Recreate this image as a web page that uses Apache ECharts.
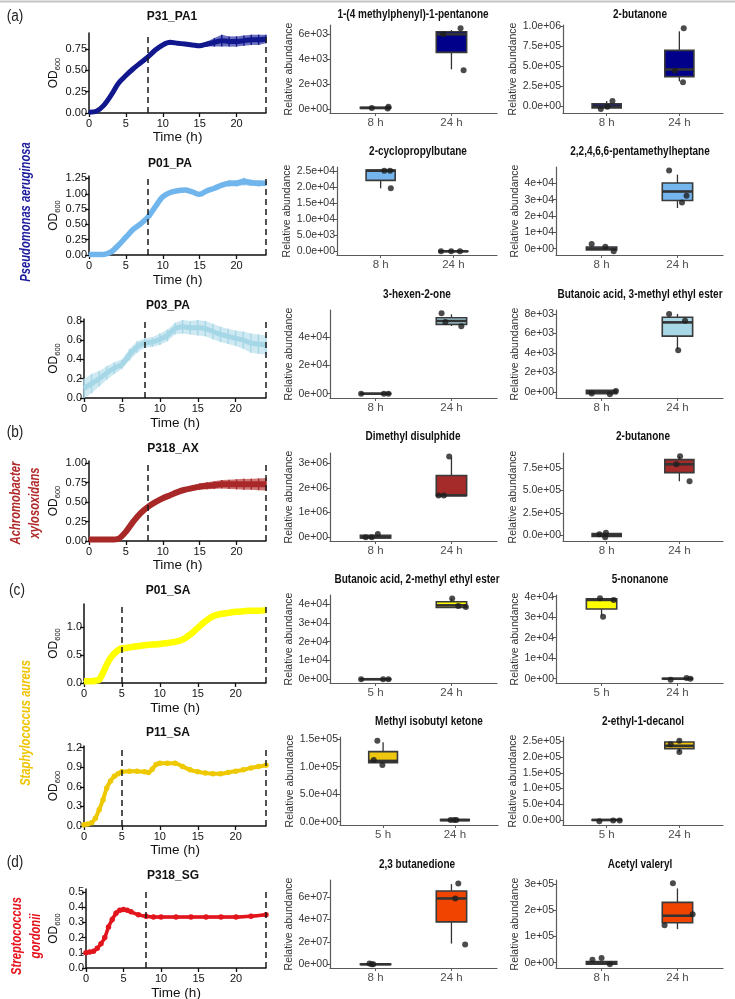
<!DOCTYPE html>
<html><head><meta charset="utf-8">
<script src="https://cdn.jsdelivr.net/npm/echarts@6/dist/echarts.min.js"></script>
<style>html,body{margin:0;padding:0;background:#fff}#c{width:735px;height:999px}</style>
</head><body><div id="c"></div>
<script>
// ---------------- growth curve data ----------------
const P31_PA1_time = [0,1,2,3,4,5,6,7,8,9,10,11,12,13,14,15,16,17,18,19,20,21,22,23,24];
const P31_PA1_od   = [0.01,0.02,0.09,0.21,0.35,0.44,0.52,0.59,0.66,0.74,0.80,0.83,0.82,0.81,0.80,0.79,0.81,0.83,0.85,0.84,0.84,0.85,0.86,0.86,0.87];
const P31_PA1_err  = [0.01,0.01,0.01,0.015,0.015,0.015,0.015,0.015,0.015,0.02,0.02,0.025,0.02,0.02,0.02,0.02,0.03,0.05,0.07,0.06,0.06,0.06,0.06,0.06,0.05];
const P31_PA1_yTicks = [0,0.25,0.5,0.75];
const P31_PA1_yLabels = ['0.00','0.25','0.50','0.75'];

const P01_PA_time = [0,1,2,3,4,5,6,7,8,9,10,11,12,13,14,15,16,17,18,19,20,21,22,23,24];
const P01_PA_od   = [0.01,0.01,0.01,0.05,0.16,0.29,0.42,0.51,0.62,0.79,0.95,1.02,1.05,1.06,1.03,0.99,1.05,1.09,1.14,1.17,1.17,1.20,1.18,1.17,1.17];
const P01_PA_err  = [0.01,0.01,0.01,0.01,0.015,0.015,0.015,0.015,0.015,0.02,0.02,0.02,0.02,0.02,0.02,0.02,0.02,0.03,0.04,0.05,0.05,0.06,0.05,0.05,0.04];
const P01_PA_yTicks = [0,0.25,0.5,0.75,1.0,1.25];
const P01_PA_yLabels = ['0.00','0.25','0.50','0.75','1.00','1.25'];

const P03_PA_time = [0,1,2,3,4,5,6,7,8,9,10,11,12,13,14,15,16,17,18,19,20,21,22,23,24];
const P03_PA_od   = [0.10,0.15,0.20,0.26,0.31,0.35,0.45,0.53,0.57,0.58,0.61,0.65,0.72,0.74,0.73,0.73,0.72,0.69,0.66,0.64,0.62,0.60,0.57,0.56,0.55];
const P03_PA_err  = [0.10,0.10,0.08,0.07,0.06,0.05,0.06,0.06,0.05,0.05,0.06,0.06,0.06,0.07,0.07,0.08,0.08,0.08,0.08,0.08,0.08,0.09,0.10,0.10,0.10];
const P03_PA_yTicks = [0,0.2,0.4,0.6,0.8];
const P03_PA_yLabels = ['0.0','0.2','0.4','0.6','0.8'];

const P318_AX_time = [0,1,2,3,4,5,6,7,8,9,10,11,12,13,14,15,16,17,18,19,20,21,22,23,24];
const P318_AX_od   = [0.02,0.02,0.02,0.02,0.03,0.12,0.25,0.36,0.44,0.50,0.55,0.59,0.63,0.66,0.68,0.70,0.71,0.72,0.73,0.73,0.73,0.73,0.73,0.73,0.73];
const P318_AX_err  = [0.01,0.01,0.01,0.01,0.01,0.01,0.01,0.01,0.015,0.02,0.02,0.025,0.03,0.03,0.035,0.04,0.045,0.05,0.055,0.06,0.065,0.07,0.07,0.075,0.08];
const P318_AX_yTicks = [0,0.25,0.5,0.75,1.0];
const P318_AX_yLabels = ['0.00','0.25','0.50','0.75','1.00'];

const P01_SA_time = [0,1,1.5,2,2.5,3,3.5,4,4.5,5,6,7,8,9,10,11,12,13,14,15,16,17,18,19,20,21,22,23,24];
const P01_SA_od   = [0.03,0.03,0.04,0.06,0.18,0.33,0.45,0.53,0.59,0.62,0.64,0.66,0.68,0.69,0.70,0.72,0.74,0.78,0.87,0.99,1.11,1.20,1.24,1.26,1.28,1.29,1.30,1.30,1.31];
const P01_SA_err  = [0.01,0.01,0.01,0.01,0.01,0.01,0.01,0.01,0.01,0.01,0.01,0.01,0.01,0.01,0.01,0.01,0.01,0.01,0.01,0.01,0.01,0.01,0.01,0.01,0.01,0.01,0.01,0.01,0.01];
const P01_SA_yTicks = [0,0.5,1.0];
const P01_SA_yLabels = ['0.0','0.5','1.0'];

const P11_SA_time = [0,0.5,1,1.5,2,2.5,3,3.5,4,4.5,5,6,7,8,8.5,9,9.5,10,11,12,13,14,15,16,17,18,19,20,21,22,23,24];
const P11_SA_od   = [0.02,0.03,0.05,0.12,0.25,0.40,0.58,0.69,0.76,0.80,0.83,0.84,0.84,0.83,0.82,0.87,0.94,0.96,0.96,0.96,0.91,0.86,0.83,0.81,0.80,0.80,0.82,0.84,0.86,0.89,0.91,0.93];
const P11_SA_err  = [0.01,0.01,0.01,0.01,0.01,0.01,0.01,0.01,0.01,0.01,0.01,0.01,0.01,0.01,0.01,0.01,0.01,0.01,0.01,0.01,0.01,0.01,0.01,0.01,0.01,0.01,0.01,0.01,0.01,0.01,0.01,0.01];
const P11_SA_yTicks = [0,0.3,0.6,0.9,1.2];
const P11_SA_yLabels = ['0.0','0.3','0.6','0.9','1.2'];

const P318_SG_time = [0,0.5,1,1.5,2,2.5,3,3.5,4,4.5,5,5.5,6,7,8,9,10,12,14,16,18,20,22,24];
const P318_SG_od   = [0.10,0.105,0.11,0.13,0.16,0.20,0.27,0.32,0.36,0.38,0.385,0.38,0.37,0.35,0.34,0.335,0.335,0.335,0.335,0.335,0.335,0.335,0.34,0.35];
const P318_SG_err  = [0.01,0.01,0.01,0.01,0.015,0.02,0.02,0.02,0.02,0.015,0.015,0.01,0.01,0.01,0.01,0.01,0.01,0.01,0.01,0.01,0.01,0.01,0.01,0.01];
const P318_SG_yTicks = [0,0.1,0.2,0.3,0.4,0.5];
const P318_SG_yLabels = ['0.0','0.1','0.2','0.3','0.4','0.5'];

const timeTicks = [0,5,10,15,20];

// ---------------- box plot data: [whiskerLow, q1, median, q3, whiskerHigh] ----------------
const cats8 = ['8 h','24 h'];
const cats5 = ['5 h','24 h'];

const pentanone_stats = [[50,65,80,135,190],[3190,4550,6000,6210,6350]];
const pentanone_pts   = [[80,50,190],[6000,6480,3110]];
const pentanone_dx    = [[-0.05,0.16,0.17],[-0.11,0.12,0.16]];
const pentanone_ticks = [0,2000,4000,6000];
const pentanone_labels= ['0e+00','2e+03','4e+03','6e+03'];

const butanoneA_stats = [[-38000,-23000,-8000,27000,63000],[310000,370000,460000,700000,940000]];
const butanoneA_pts   = [[-38000,-8000,63000],[980000,445000,300000]];
const butanoneA_dx    = [[-0.08,0.01,0.08],[0.06,-0.06,0.05]];
const butanoneA_ticks = [0,250000,500000,750000,1000000];
const butanoneA_labels= ['0.0e+00','2.5e+05','5.0e+05','7.5e+05','1.0e+06'];

const cyclo_stats = [[19600,22100,25100,25300,25300],[-50,-20,0,20,50]];
const cyclo_pts   = [[25100,25100,19600],[0,0,0]];
const cyclo_dx    = [[0.05,0.13,0.14],[-0.17,-0.03,0.09]];
const cyclo_ticks = [0,5000,10000,15000,20000,25000];
const cyclo_labels= ['0.0e+00','5.0e+03','1.0e+04','1.5e+04','2.0e+04','2.5e+04'];

const pentamethyl_stats = [[-800,-800,0,1000,1000],[24900,29500,35000,40200,45300]];
const pentamethyl_pts   = [[2900,1200,-1600],[47800,32400,28300]];
const pentamethyl_dx    = [[-0.13,0.05,0.16],[-0.11,0.12,0.06]];
const pentamethyl_ticks = [0,10000,20000,30000,40000];
const pentamethyl_labels= ['0e+00','1e+04','2e+04','3e+04','4e+04'];

const hexenone_stats = [[-100,-50,0,50,100],[48100,49300,51700,54000,56400]];
const hexenone_pts   = [[0,0,0],[57100,51000,47900]];
const hexenone_dx    = [[-0.19,0.11,0.17],[-0.13,-0.08,0.13]];
const hexenone_ticks = [0,20000,40000];
const hexenone_labels= ['0e+00','2e+04','4e+04'];

const but3m_stats = [[-170,-170,0,170,170],[4390,5730,7140,7660,8000]];
const but3m_pts   = [[-170,-240,100],[8000,7310,4290]];
const but3m_dx    = [[-0.13,0.11,0.19],[-0.11,0.10,0.01]];
const but3m_ticks = [0,2000,4000,6000,8000];
const but3m_labels= ['0e+00','2e+03','4e+03','6e+03','8e+03'];

const dmds_stats = [[-40000,-40000,-10000,70000,70000],[1690000,1690000,1690000,2500000,3240000]];
const dmds_pts   = [[-10000,-10000,120000],[1690000,1690000,3270000]];
const dmds_dx    = [[-0.13,-0.05,0.03],[-0.17,-0.10,-0.03]];
const dmds_ticks = [0,1000000,2000000,3000000];
const dmds_labels= ['0e+00','1e+06','2e+06','3e+06'];

const butanoneB_stats = [[-11000,-11000,0,19000,19000],[602000,698000,791000,843000,880000]];
const butanoneB_pts   = [[11000,-22000,30000],[880000,791000,602000]];
const butanoneB_dx    = [[-0.10,-0.02,-0.01],[0.01,-0.04,0.14]];
const butanoneB_ticks = [0,250000,500000,750000];
const butanoneB_labels= ['0.0e+00','2.5e+05','5.0e+05','7.5e+05'];

const but2m_stats = [[-100,-50,0,50,100],[38200,38200,39300,41200,43000]];
const but2m_pts   = [[0,0,0],[43000,38900,38400]];
const but2m_dx    = [[-0.19,0.10,0.17],[0.01,0.09,0.19]];
const but2m_ticks = [0,10000,20000,30000,40000];
const but2m_labels= ['0e+00','1e+04','2e+04','3e+04','4e+04'];

const nonanone_stats = [[30700,34000,38400,38900,38900],[-100,-50,0,50,100]];
const nonanone_pts   = [[39200,38400,30200],[-500,300,0]];
const nonanone_dx    = [[-0.02,0.16,0.02],[-0.09,0.12,0.17]];
const nonanone_ticks = [0,10000,20000,30000,40000];
const nonanone_labels= ['0e+00','1e+04','2e+04','3e+04','4e+04'];

const mibk_stats = [[107500,107500,110500,127500,144500],[2000,2000,3000,4000,4000]];
const mibk_pts   = [[147000,112000,103000],[3000,3000,3000]];
const mibk_dx    = [[-0.08,-0.13,-0.01],[-0.06,-0.01,0.02]];
const mibk_ticks = [0,50000,100000,150000];
const mibk_labels= ['0.0e+00','5.0e+04','1.0e+05','1.5e+05'];

const decanol_stats = [[-1500,-1000,0,1000,1500],[216000,227000,236000,248000,252000]];
const decanol_pts   = [[-4000,-2000,-2000],[241000,252000,216000]];
const decanol_dx    = [[-0.10,0.09,0.18],[-0.12,0.0,0.0]];
const decanol_ticks = [0,50000,100000,150000,200000,250000];
const decanol_labels= ['0.0e+00','5.0e+04','1.0e+05','1.5e+05','2.0e+05','2.5e+05'];

const butanedione_stats = [[-200000,-100000,0,300000,600000],[18400000,37700000,58500000,65100000,71300000]];
const butanedione_pts   = [[600000,0,0],[71900000,58500000,17500000]];
const butanedione_dx    = [[-0.08,-0.05,-0.03],[0.09,0.05,0.18]];
const butanedione_ticks = [0,20000000,40000000,60000000];
const butanedione_labels= ['0e+00','2e+07','4e+07','6e+07'];

const acetyl_stats = [[-6000,-6000,0,5000,5000],[128000,152000,179000,230000,283000]];
const acetyl_pts   = [[11000,18000,-6000],[303000,185000,143000]];
const acetyl_dx    = [[-0.12,0.0,0.11],[-0.06,0.20,-0.17]];
const acetyl_ticks = [0,100000,200000,300000];
const acetyl_labels= ['0e+00','1e+05','2e+05','3e+05'];

// ---------------- layout / style ----------------
const G_FONT = '"Liberation Sans", Arial, sans-serif';
const N_SCALE = 0.8;   // condensed look for the ggplot panels' titles

const growthPanels = [
  {title:'P31_PA1', t:P31_PA1_time, od:P31_PA1_od, err:P31_PA1_err, yT:P31_PA1_yTicks, yL:P31_PA1_yLabels, yMax:0.94, dash:8, color:'#11178d', band:'#3a40a8', g:[89,33,177,80], tx:172, ty:17, timeY:136, sym:false, lw:5},
  {title:'P01_PA', t:P01_PA_time, od:P01_PA_od, err:P01_PA_err, yT:P01_PA_yTicks, yL:P01_PA_yLabels, yMax:1.29, dash:8, color:'#70b6ec', band:'#9dccf2', g:[89,176,177,79], tx:170, ty:164, timeY:280, sym:false, lw:5.5},
  {title:'P03_PA', t:P03_PA_time, od:P03_PA_od, err:P03_PA_err, yT:P03_PA_yTicks, yL:P03_PA_yLabels, yMax:0.82, dash:8, color:'#a6d7e7', band:'#bfe2ee', g:[84,319,182,79], tx:168, ty:306, timeY:423, sym:false, lw:5},
  {title:'P318_AX', t:P318_AX_time, od:P318_AX_od, err:P318_AX_err, yT:P318_AX_yTicks, yL:P318_AX_yLabels, yMax:1.03, dash:8, color:'#a82828', band:'#bd4a4a', g:[89,461,177,80], tx:173, ty:449, timeY:565, sym:false, lw:6},
  {title:'P01_SA', t:P01_SA_time, od:P01_SA_od, err:P01_SA_err, yT:P01_SA_yTicks, yL:P01_SA_yLabels, yMax:1.42, dash:5, color:'#ffff00', band:'#ffff60', g:[84,604,182,79], tx:168, ty:591, timeY:708, sym:false, lw:6.5},
  {title:'P11_SA', t:P11_SA_time, od:P11_SA_od, err:P11_SA_err, yT:P11_SA_yTicks, yL:P11_SA_yLabels, yMax:1.225, dash:5, color:'#eec800', band:'#f2d440', g:[84,746,182,80], tx:168, ty:733, timeY:850, sym:true, lw:4},
  {title:'P318_SG', t:P318_SG_time, od:P318_SG_od, err:P318_SG_err, yT:P318_SG_yTicks, yL:P318_SG_yLabels, yMax:0.52, dash:8, color:'#e3151c', band:'#ea4a50', g:[86,889,180,79], tx:173, ty:876, timeY:993, sym:true, lw:3.5}
];

const boxPanels = [
  {title:'1-(4 methylphenyl)-1-pentanone', cats:cats8, s:pentanone_stats, p:pentanone_pts, dx:pentanone_dx, yT:pentanone_ticks, yL:pentanone_labels, yMin:-320, yMax:6750, fill:'#00008b', g:[330,25,167,88], tx:413, ty:15, nx:295},
  {title:'2-butanone', cats:cats8, s:butanoneA_stats, p:butanoneA_pts, dx:butanoneA_dx, yT:butanoneA_ticks, yL:butanoneA_labels, yMin:-88000, yMax:1020000, fill:'#00008b', g:[563,25,160,88], tx:640, ty:15, nx:520},
  {title:'2-cyclopropylbutane', cats:cats8, s:cyclo_stats, p:cyclo_pts, dx:cyclo_dx, yT:cyclo_ticks, yL:cyclo_labels, yMin:-1150, yMax:26250, fill:'#73b5ec', g:[337,167,160,88], tx:418, ty:152, nx:295},
  {title:'2,2,4,6,6-pentamethylheptane', cats:cats8, s:pentamethyl_stats, p:pentamethyl_pts, dx:pentamethyl_dx, yT:pentamethyl_ticks, yL:pentamethyl_labels, yMin:-3900, yMax:50000, fill:'#73b5ec', g:[556,167,167,88], tx:640, ty:152, nx:520},
  {title:'3-hexen-2-one', cats:cats8, s:hexenone_stats, p:hexenone_pts, dx:hexenone_dx, yT:hexenone_ticks, yL:hexenone_labels, yMin:-3100, yMax:59500, fill:'#a8d8e6', g:[330,310,167,88], tx:417, ty:295, nx:295},
  {title:'Butanoic acid, 3-methyl ethyl ester', cats:cats8, s:but3m_stats, p:but3m_pts, dx:but3m_dx, yT:but3m_ticks, yL:but3m_labels, yMin:-620, yMax:8410, fill:'#a8d8e6', g:[556,310,167,88], tx:640, ty:295, nx:520},
  {title:'Dimethyl disulphide', cats:cats8, s:dmds_stats, p:dmds_pts, dx:dmds_dx, yT:dmds_ticks, yL:dmds_labels, yMin:-160000, yMax:3410000, fill:'#a52a2a', g:[330,453,167,88], tx:413, ty:437, nx:295},
  {title:'2-butanone', cats:cats8, s:butanoneB_stats, p:butanoneB_pts, dx:butanoneB_dx, yT:butanoneB_ticks, yL:butanoneB_labels, yMin:-63000, yMax:917000, fill:'#a52a2a', g:[563,453,160,88], tx:643, ty:437, nx:520},
  {title:'Butanoic acid, 2-methyl ethyl ester', cats:cats5, s:but2m_stats, p:but2m_pts, dx:but2m_dx, yT:but2m_ticks, yL:but2m_labels, yMin:-2000, yMax:44800, fill:'#ffff00', g:[330,595,167,88], tx:417, ty:580, nx:295},
  {title:'5-nonanone', cats:cats5, s:nonanone_stats, p:nonanone_pts, dx:nonanone_dx, yT:nonanone_ticks, yL:nonanone_labels, yMin:-2100, yMax:40800, fill:'#ffff00', g:[556,595,167,88], tx:640, ty:580, nx:520},
  {title:'Methyl isobutyl ketone', cats:cats5, s:mibk_stats, p:mibk_pts, dx:mibk_dx, yT:mibk_ticks, yL:mibk_labels, yMin:-6000, yMax:154000, fill:'#efc70e', g:[340,737,158,88], tx:429, ty:722, nx:295},
  {title:'2-ethyl-1-decanol', cats:cats5, s:decanol_stats, p:decanol_pts, dx:decanol_dx, yT:decanol_ticks, yL:decanol_labels, yMin:-16000, yMax:264000, fill:'#efc70e', g:[563,737,160,88], tx:643, ty:722, nx:520},
  {title:'2,3 butanedione', cats:cats8, s:butanedione_stats, p:butanedione_pts, dx:butanedione_dx, yT:butanedione_ticks, yL:butanedione_labels, yMin:-3300000, yMax:74900000, fill:'#f04400', g:[330,880,167,88], tx:417, ty:865, nx:295},
  {title:'Acetyl valeryl', cats:cats8, s:acetyl_stats, p:acetyl_pts, dx:acetyl_dx, yT:acetyl_ticks, yL:acetyl_labels, yMin:-20000, yMax:315000, fill:'#f04400', g:[556,880,167,88], tx:640, ty:865, nx:520}
];

function labelFmt(ticks, labels) {
  return function (v) {
    for (let i = 0; i < ticks.length; i++) {
      if (Math.abs(ticks[i] - v) <= Math.abs(ticks[i]) * 1e-9 + 1e-12) return labels[i];
    }
    return '';
  };
}

const grid = [], xAxis = [], yAxis = [], series = [], graphic = [];

graphic.push({type:'line', shape:{x1:0,y1:1.5,x2:735,y2:1.5}, style:{stroke:'#c4c4c4', lineWidth:2}, silent:true});

// growth panels
growthPanels.forEach(function (P) {
  const gi = grid.length;
  grid.push({left:P.g[0], top:P.g[1], width:P.g[2], height:P.g[3], outerBoundsMode:'none', containLabel:false});
  xAxis.push({
    type:'value', gridIndex:gi, min:0, max:24,
    axisLine:{show:true, onZero:false, lineStyle:{color:'#111', width:1.5}},
    axisTick:{show:true, length:4, customValues:timeTicks, lineStyle:{color:'#111', width:1.3}},
    axisLabel:{customValues:timeTicks, color:'#111', fontSize:11, fontFamily:G_FONT, margin:5},
    splitLine:{show:false},
    name:'Time (h)', nameLocation:'middle', nameGap:P.timeY - (P.g[1] + P.g[3]) - 7,
    nameTextStyle:{fontSize:13.5, color:'#111', fontFamily:G_FONT}
  });
  yAxis.push({
    type:'value', gridIndex:gi, min:0, max:P.yMax,
    axisLine:{show:true, onZero:false, lineStyle:{color:'#111', width:1.5}},
    axisTick:{show:true, length:4, customValues:P.yT, lineStyle:{color:'#111', width:1.3}},
    axisLabel:{customValues:P.yT, formatter:labelFmt(P.yT, P.yL), color:'#111', fontSize:11, fontFamily:G_FONT, margin:2},
    splitLine:{show:false},
    name:'{a|OD}{b|600}', nameLocation:'middle', nameGap:P.g[0] - 55 - 7,
    nameTextStyle:{fontFamily:G_FONT, rich:{a:{fontSize:12, color:'#111', fontFamily:G_FONT, lineHeight:16}, b:{fontSize:7.5, color:'#111', fontFamily:G_FONT, verticalAlign:'bottom', lineHeight:16}}}
  });
  const segs = [], bars = [];
  for (let i = 0; i < P.t.length; i++) {
    bars.push([P.t[i], P.od[i] - P.err[i], P.od[i] + P.err[i]]);
    if (i < P.t.length - 1) segs.push([P.t[i], P.od[i] - P.err[i], P.od[i] + P.err[i], P.t[i+1], P.od[i+1] - P.err[i+1], P.od[i+1] + P.err[i+1]]);
  }
  series.push({
    type:'custom', xAxisIndex:gi, yAxisIndex:gi, data:segs, silent:true, z:2,
    encode:{x:[0,3], y:[1,2,4,5]},
    renderItem:function (params, api) {
      const a = api.coord([api.value(0), api.value(1)]), b = api.coord([api.value(3), api.value(4)]);
      const c = api.coord([api.value(3), api.value(5)]), d = api.coord([api.value(0), api.value(2)]);
      return {type:'polygon', shape:{points:[a,b,c,d]}, style:{fill:P.band, opacity:0.75}};
    }
  });
  series.push({
    type:'custom', xAxisIndex:gi, yAxisIndex:gi, data:bars, silent:true, z:3,
    encode:{x:0, y:[1,2]},
    renderItem:function (params, api) {
      const lo = api.coord([api.value(0), api.value(1)]), hi = api.coord([api.value(0), api.value(2)]);
      return {type:'line', shape:{x1:lo[0], y1:lo[1], x2:hi[0], y2:hi[1]}, style:{stroke:P.color, lineWidth:1.4}};
    }
  });
  series.push({
    type:'line', xAxisIndex:gi, yAxisIndex:gi, z:4,
    data:P.t.map(function (t, i) { return [t, P.od[i]]; }),
    smooth:0.3, showSymbol:P.sym, symbol:'circle', symbolSize:5.5,
    itemStyle:{color:P.color}, lineStyle:{color:P.color, width:P.lw},
    markLine:{silent:true, symbol:['none','none'], label:{show:false},
      lineStyle:{color:'#1a1a1a', type:[6,4], width:1.5},
      data:[{xAxis:P.dash},{xAxis:24}]}
  });
  graphic.push({type:'text', x:P.tx, y:P.ty, style:{text:P.title, fontFamily:G_FONT, fontWeight:'bold', fontSize:12, fill:'#111', align:'center', verticalAlign:'middle'}});
});

// box panels
const BOX_W = 0.4;
boxPanels.forEach(function (B) {
  const gi = grid.length;
  grid.push({left:B.g[0], top:B.g[1], width:B.g[2], height:B.g[3], outerBoundsMode:'none', containLabel:false});
  xAxis.push({
    type:'value', gridIndex:gi, min:0.4, max:2.6,
    axisLine:{show:true, onZero:false, lineStyle:{color:'#5a5a5a', width:1.2}},
    axisTick:{show:true, length:3, customValues:[1,2], lineStyle:{color:'#5a5a5a'}},
    axisLabel:{customValues:[1,2], formatter:function (v) { return B.cats[Math.round(v) - 1]; }, color:'#505050', fontSize:11.5, fontFamily:G_FONT, margin:4},
    splitLine:{show:false}
  });
  yAxis.push({
    type:'value', gridIndex:gi, min:B.yMin, max:B.yMax,
    axisLine:{show:true, onZero:false, lineStyle:{color:'#5a5a5a', width:1.2}},
    axisTick:{show:true, length:3, customValues:B.yT, lineStyle:{color:'#5a5a5a'}},
    axisLabel:{customValues:B.yT, formatter:labelFmt(B.yT, B.yL), color:'#333', fontSize:10.5, fontFamily:G_FONT, margin:2},
    splitLine:{show:false},
    name:'Relative abundance', nameLocation:'middle', nameGap:B.g[0] - B.nx - 5,
    nameTextStyle:{fontSize:10.5, color:'#333', fontFamily:G_FONT}
  });
  series.push({
    type:'custom', xAxisIndex:gi, yAxisIndex:gi, silent:true, z:3,
    data:B.s.map(function (st, c) { return [c + 1].concat(st); }),
    encode:{x:0, y:[1,2,3,4,5]},
    renderItem:function (params, api) {
      const x = api.value(0), wlo = api.value(1), q1 = api.value(2), med = api.value(3), q3 = api.value(4), whi = api.value(5);
      const tl = api.coord([x - BOX_W / 2, q3]), br = api.coord([x + BOX_W / 2, q1]);
      const a = api.coord([x, wlo]), b = api.coord([x, q1]), c = api.coord([x, q3]), d = api.coord([x, whi]);
      const m1 = api.coord([x - BOX_W / 2, med]), m2 = api.coord([x + BOX_W / 2, med]);
      return {type:'group', children:[
        {type:'line', shape:{x1:a[0], y1:a[1], x2:b[0], y2:b[1]}, style:{stroke:'#333', lineWidth:1.3}},
        {type:'line', shape:{x1:c[0], y1:c[1], x2:d[0], y2:d[1]}, style:{stroke:'#333', lineWidth:1.3}},
        {type:'rect', shape:{x:tl[0], y:tl[1], width:br[0] - tl[0], height:br[1] - tl[1]}, style:{fill:B.fill, stroke:'#3a3a3a', lineWidth:1.6}},
        {type:'line', shape:{x1:m1[0], y1:m1[1], x2:m2[0], y2:m2[1]}, style:{stroke:'#333', lineWidth:2.6}}
      ]};
    }
  });
  const pts = [];
  B.p.forEach(function (arr, c) { arr.forEach(function (y, k) { pts.push([c + 1 + B.dx[c][k], y]); }); });
  series.push({type:'scatter', xAxisIndex:gi, yAxisIndex:gi, data:pts, symbolSize:6, itemStyle:{color:'#1e1e1e'}, z:5, silent:true});
  graphic.push({type:'text', x:B.tx, y:B.ty, scaleX:N_SCALE, style:{text:B.title, fontFamily:G_FONT, fontWeight:'bold', fontSize:12.5, fill:'#111', align:'center', verticalAlign:'middle'}});
});

// panel letters
[['(a)',15,17],['(b)',15,433],['(c)',17,591],['(d)',15,863]].forEach(function (L) {
  graphic.push({type:'text', x:L[1], y:L[2], scaleX:0.85, style:{text:L[0], fontFamily:G_FONT, fontSize:16, fill:'#222', align:'center', verticalAlign:'middle'}});
});

// species labels (rotated)
[
  {text:'Pseudomonas aeruginosa', x:26, y:212, color:'#1c1c9c'},
  {text:'Achromobacter\nxylosoxidans', x:26, y:503, color:'#b02a2a'},
  {text:'Staphylococcus aureus', x:26, y:723, color:'#efc300'},
  {text:'Streptococcus\ngordonii', x:27, y:936, color:'#e5111b'}
].forEach(function (S) {
  graphic.push({type:'text', x:S.x, y:S.y, rotation:Math.PI / 2, scaleX:0.8,
    style:{text:S.text, fontFamily:G_FONT, fontStyle:'italic', fontWeight:'bold', fontSize:14, lineHeight:19, fill:S.color, align:'center', verticalAlign:'middle'}});
});

const chart = echarts.init(document.getElementById('c'), null, {renderer:'canvas'});
chart.setOption({animation:false, backgroundColor:'#fff', grid:grid, xAxis:xAxis, yAxis:yAxis, series:series, graphic:graphic});
</script>
</body></html>
